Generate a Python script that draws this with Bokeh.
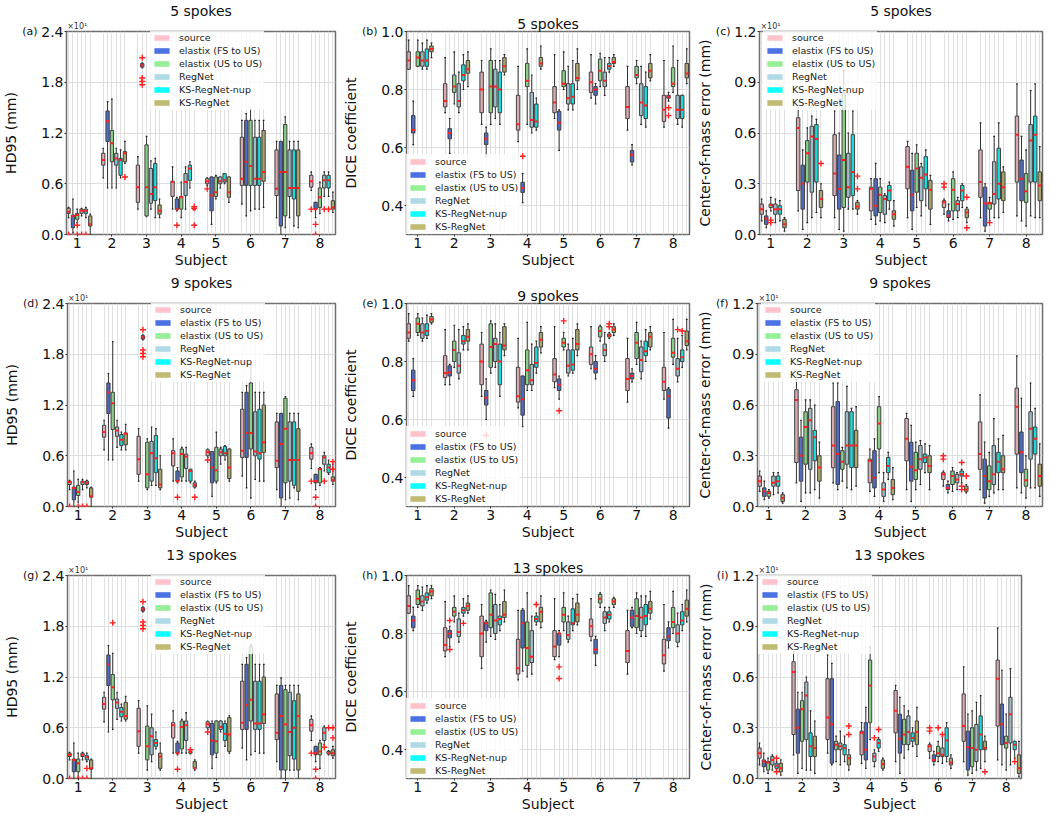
from bokeh.plotting import figure
from bokeh.layouts import column, row
from bokeh.models import (FixedTicker, PrintfTickFormatter, Legend, LegendItem,
                          Range1d, LinearAxis)
from bokeh.embed import file_html
from bokeh.resources import INLINE

FONT = "DejaVu Sans"
SUBJECTS = [1, 2, 3, 4, 5, 6, 7, 8]
METHODS = ["source", "elastix (FS to US)", "elastix (US to US)", "RegNet",
           "KS-RegNet-nup", "KS-RegNet"]
COLORS = ["#ffc0cb", "#4169e1", "#90ee90", "#add8e6", "#00ffff", "#bdb76b"]

# each panel: 8 subjects x 6 methods -> (low whisker, q1, median, q3, high whisker)
HD95_5 = [
    [(0.20, 0.25, 0.27, 0.31, 0.32), (0.02, 0.08, 0.22, 0.23, 0.42), (0.14, 0.18, 0.23, 0.25, 0.30), (0.22, 0.25, 0.28, 0.30, 0.31), (0.20, 0.25, 0.28, 0.30, 0.32), (0.00, 0.10, 0.12, 0.22, 0.24)],
    [(0.67, 0.82, 0.88, 0.96, 1.02), (0.55, 1.10, 1.34, 1.46, 1.57), (0.55, 0.86, 1.08, 1.23, 1.60), (0.55, 0.82, 0.90, 0.96, 1.02), (0.67, 0.70, 0.88, 0.90, 1.00), (0.84, 0.86, 0.96, 0.98, 1.10)],
    [(0.30, 0.38, 0.56, 0.82, 0.92), (1.97, 1.98, 2.00, 2.02, 2.03), (0.21, 0.22, 0.56, 1.06, 1.16), (0.30, 0.37, 0.48, 0.78, 0.87), (0.20, 0.40, 0.56, 0.84, 0.90), (0.20, 0.24, 0.28, 0.35, 0.42)],
    [(0.30, 0.45, 0.62, 0.63, 0.80), (0.28, 0.30, 0.30, 0.42, 0.44), (0.20, 0.30, 0.44, 0.45, 0.62), (0.30, 0.46, 0.62, 0.72, 0.80), (0.55, 0.64, 0.78, 0.82, 0.86), (0.30, 0.30, 0.30, 0.30, 0.30)],
    [(0.58, 0.60, 0.63, 0.66, 0.67), (0.12, 0.28, 0.46, 0.68, 0.68), (0.42, 0.45, 0.50, 0.68, 0.70), (0.55, 0.60, 0.63, 0.68, 0.68), (0.60, 0.62, 0.64, 0.72, 0.72), (0.38, 0.44, 0.50, 0.68, 0.68)],
    [(0.36, 0.58, 0.66, 1.15, 1.35), (0.22, 0.58, 0.86, 1.35, 1.43), (0.28, 0.58, 0.81, 1.35, 1.48), (0.30, 0.58, 0.66, 1.15, 1.35), (0.30, 0.58, 0.66, 1.15, 1.35), (0.32, 0.63, 0.74, 1.23, 1.35)],
    [(0.20, 0.46, 0.54, 1.00, 1.10), (0.00, 0.10, 0.74, 1.10, 1.10), (0.08, 0.22, 0.74, 1.30, 1.39), (0.20, 0.45, 0.55, 1.00, 1.10), (0.10, 0.42, 0.55, 1.00, 1.10), (0.08, 0.22, 0.55, 1.00, 1.10)],
    [(0.52, 0.56, 0.63, 0.70, 0.74), (0.20, 0.30, 0.30, 0.38, 0.38), (0.25, 0.32, 0.44, 0.55, 0.62), (0.45, 0.55, 0.64, 0.70, 0.74), (0.45, 0.55, 0.64, 0.70, 0.74), (0.26, 0.30, 0.32, 0.40, 0.50)],
]
HD95_5_OUT = [(1, 0, 0.0), (1, 2, 0.11), (1, 2, 0.0), (1, 3, 0.0), (1, 4, 0.0), (2, 5, 0.68),
              (3, 1, 2.09), (3, 1, 1.85), (3, 1, 1.81), (3, 1, 1.77), (4, 1, 0.11), (4, 5, 0.33),
              (4, 5, 0.31), (4, 5, 0.11), (5, 0, 0.54), (8, 0, 0.30), (8, 1, 0.12), (8, 1, 0.0),
              (8, 3, 0.30), (8, 4, 0.30)]

DICE_5 = [
    [(0.87, 0.87, 0.90, 0.93, 0.97), (0.61, 0.65, 0.66, 0.71, 0.76), (0.88, 0.88, 0.91, 0.93, 0.97), (0.87, 0.88, 0.90, 0.93, 0.96), (0.87, 0.88, 0.90, 0.94, 0.97), (0.91, 0.93, 0.94, 0.95, 0.96)],
    [(0.72, 0.74, 0.76, 0.82, 0.91), (0.58, 0.63, 0.65, 0.665, 0.70), (0.75, 0.79, 0.81, 0.85, 0.93), (0.72, 0.74, 0.76, 0.82, 0.86), (0.80, 0.83, 0.85, 0.885, 0.92), (0.81, 0.856, 0.87, 0.90, 0.93)],
    [(0.68, 0.72, 0.80, 0.86, 0.90), (0.57, 0.61, 0.63, 0.65, 0.67), (0.68, 0.72, 0.81, 0.90, 0.94), (0.70, 0.74, 0.81, 0.87, 0.90), (0.68, 0.72, 0.80, 0.86, 0.90), (0.85, 0.86, 0.88, 0.91, 0.92)],
    [(0.62, 0.66, 0.68, 0.78, 0.88), (0.41, 0.445, 0.46, 0.48, 0.51), (0.68, 0.81, 0.83, 0.89, 0.94), (0.65, 0.67, 0.695, 0.79, 0.85), (0.66, 0.67, 0.69, 0.75, 0.77), (0.87, 0.88, 0.89, 0.91, 0.95)],
    [(0.70, 0.72, 0.755, 0.81, 0.92), (0.59, 0.66, 0.685, 0.725, 0.73), (0.80, 0.81, 0.82, 0.865, 0.93), (0.73, 0.75, 0.77, 0.82, 0.88), (0.73, 0.75, 0.775, 0.82, 0.90), (0.80, 0.83, 0.84, 0.89, 0.94)],
    [(0.77, 0.79, 0.825, 0.86, 0.92), (0.75, 0.78, 0.80, 0.81, 0.82), (0.81, 0.83, 0.865, 0.905, 0.925), (0.78, 0.81, 0.83, 0.86, 0.91), (0.86, 0.87, 0.88, 0.89, 0.91), (0.88, 0.89, 0.895, 0.91, 0.92)],
    [(0.66, 0.70, 0.74, 0.81, 0.88), (0.54, 0.55, 0.575, 0.59, 0.61), (0.82, 0.84, 0.85, 0.88, 0.90), (0.68, 0.71, 0.755, 0.82, 0.88), (0.67, 0.70, 0.745, 0.81, 0.86), (0.83, 0.84, 0.865, 0.89, 0.92)],
    [(0.67, 0.69, 0.73, 0.78, 0.90), (0.76, 0.77, 0.775, 0.78, 0.79), (0.79, 0.81, 0.82, 0.875, 0.95), (0.68, 0.70, 0.73, 0.78, 0.90), (0.67, 0.70, 0.73, 0.78, 0.78), (0.82, 0.84, 0.855, 0.89, 0.94)],
]
DICE_5_OUT = [(4, 1, 0.57), (8, 1, 0.737), (8, 1, 0.71)]

COM_5 = [
    [(0.08, 0.12, 0.15, 0.18, 0.21), (0.04, 0.06, 0.095, 0.11, 0.14), (0.14, 0.16, 0.175, 0.18, 0.22), (0.07, 0.12, 0.15, 0.18, 0.21), (0.08, 0.12, 0.15, 0.17, 0.20), (0.02, 0.04, 0.06, 0.09, 0.10)],
    [(0.14, 0.26, 0.63, 0.69, 0.75), (0.03, 0.15, 0.30, 0.41, 0.50), (0.07, 0.31, 0.48, 0.555, 0.63), (0.10, 0.25, 0.58, 0.64, 0.70), (0.13, 0.31, 0.565, 0.65, 0.68), (0.10, 0.16, 0.21, 0.26, 0.30)],
    [(0.10, 0.23, 0.36, 0.59, 0.73), (0.03, 0.15, 0.27, 0.47, 0.60), (0.02, 0.16, 0.44, 0.83, 0.97), (0.15, 0.22, 0.28, 0.48, 0.60), (0.15, 0.23, 0.37, 0.59, 0.73), (0.12, 0.15, 0.165, 0.19, 0.20)],
    [(0.09, 0.14, 0.27, 0.28, 0.33), (0.06, 0.11, 0.17, 0.33, 0.42), (0.08, 0.13, 0.235, 0.28, 0.33), (0.07, 0.12, 0.21, 0.23, 0.24), (0.15, 0.20, 0.26, 0.29, 0.31), (0.05, 0.09, 0.12, 0.14, 0.20)],
    [(0.10, 0.27, 0.40, 0.52, 0.55), (0.03, 0.14, 0.235, 0.38, 0.48), (0.16, 0.25, 0.39, 0.48, 0.53), (0.11, 0.20, 0.335, 0.40, 0.42), (0.17, 0.27, 0.355, 0.46, 0.50), (0.06, 0.15, 0.265, 0.32, 0.35)],
    [(0.12, 0.16, 0.19, 0.20, 0.21), (0.08, 0.10, 0.11, 0.14, 0.18), (0.09, 0.14, 0.265, 0.33, 0.37), (0.10, 0.14, 0.18, 0.20, 0.22), (0.16, 0.20, 0.26, 0.29, 0.30), (0.07, 0.10, 0.13, 0.15, 0.16)],
    [(0.10, 0.22, 0.31, 0.50, 0.66), (0.02, 0.05, 0.185, 0.28, 0.30), (0.08, 0.15, 0.185, 0.19, 0.22), (0.10, 0.18, 0.24, 0.43, 0.58), (0.10, 0.21, 0.30, 0.51, 0.66), (0.13, 0.20, 0.28, 0.37, 0.40)],
    [(0.11, 0.31, 0.59, 0.70, 0.89), (0.08, 0.20, 0.33, 0.44, 0.58), (0.05, 0.19, 0.255, 0.36, 0.50), (0.11, 0.31, 0.555, 0.65, 0.85), (0.10, 0.31, 0.59, 0.70, 0.89), (0.10, 0.20, 0.29, 0.37, 0.52)],
]
COM_5_OUT = [(1, 2, 0.085), (1, 2, 0.07), (2, 5, 0.42), (3, 5, 0.345), (3, 5, 0.27),
             (6, 0, 0.30), (6, 0, 0.28), (6, 5, 0.22), (6, 5, 0.04), (7, 2, 0.07)]

HD95_9 = [
    [(0.20, 0.26, 0.29, 0.30, 0.31), (0.00, 0.08, 0.22, 0.23, 0.42), (0.05, 0.13, 0.17, 0.25, 0.32), (0.20, 0.26, 0.29, 0.30, 0.32), (0.22, 0.26, 0.28, 0.30, 0.31), (0.00, 0.11, 0.12, 0.22, 0.23)],
    [(0.67, 0.82, 0.88, 0.96, 1.02), (0.55, 1.10, 1.35, 1.46, 1.57), (0.55, 0.91, 1.22, 1.35, 1.95), (0.70, 0.83, 0.90, 0.94, 1.02), (0.67, 0.72, 0.79, 0.85, 0.88), (0.67, 0.73, 0.86, 0.87, 0.97)],
    [(0.30, 0.38, 0.56, 0.83, 0.92), (1.97, 1.98, 2.00, 2.02, 2.03), (0.20, 0.22, 0.38, 0.76, 0.80), (0.25, 0.30, 0.63, 0.77, 0.94), (0.25, 0.40, 0.57, 0.84, 0.92), (0.20, 0.22, 0.26, 0.44, 0.60)],
    [(0.30, 0.48, 0.63, 0.66, 0.80), (0.28, 0.30, 0.30, 0.42, 0.46), (0.30, 0.35, 0.62, 0.68, 0.70), (0.30, 0.45, 0.59, 0.62, 0.70), (0.28, 0.30, 0.42, 0.44, 0.44), (0.22, 0.23, 0.25, 0.28, 0.30)],
    [(0.58, 0.60, 0.64, 0.67, 0.68), (0.12, 0.28, 0.46, 0.65, 0.65), (0.28, 0.30, 0.43, 0.70, 0.88), (0.50, 0.60, 0.64, 0.68, 0.70), (0.55, 0.60, 0.63, 0.71, 0.72), (0.30, 0.33, 0.46, 0.68, 0.68)],
    [(0.36, 0.58, 0.66, 1.15, 1.35), (0.22, 0.58, 0.87, 1.35, 1.43), (0.10, 0.68, 0.87, 1.46, 1.68), (0.32, 0.60, 0.65, 1.12, 1.35), (0.30, 0.56, 0.63, 1.15, 1.35), (0.30, 0.64, 0.76, 1.20, 1.35)],
    [(0.20, 0.46, 0.54, 1.00, 1.10), (0.00, 0.10, 0.74, 1.10, 1.10), (0.08, 0.28, 0.92, 1.28, 1.30), (0.10, 0.30, 0.55, 1.00, 1.10), (0.22, 0.25, 0.55, 1.00, 1.10), (0.08, 0.18, 0.55, 0.92, 1.10)],
    [(0.45, 0.56, 0.63, 0.70, 0.74), (0.20, 0.28, 0.30, 0.38, 0.38), (0.25, 0.28, 0.44, 0.45, 0.46), (0.42, 0.50, 0.58, 0.60, 0.64), (0.38, 0.40, 0.46, 0.50, 0.55), (0.26, 0.30, 0.31, 0.35, 0.50)],
]
HD95_9_OUT = [(1, 0, 0.0), (1, 2, 0.0), (1, 3, 0.0), (1, 4, 0.0), (3, 1, 2.09), (3, 1, 1.85),
              (3, 1, 1.81), (3, 1, 1.77), (4, 1, 0.11), (4, 5, 0.11), (5, 0, 0.55), (8, 0, 0.30),
              (8, 1, 0.11), (8, 1, 0.0), (8, 3, 0.30), (8, 5, 0.53), (8, 5, 0.44)]

DICE_9 = [
    [(0.87, 0.88, 0.90, 0.93, 0.965), (0.68, 0.70, 0.735, 0.77, 0.81), (0.89, 0.90, 0.93, 0.95, 0.965), (0.87, 0.88, 0.90, 0.93, 0.95), (0.88, 0.89, 0.905, 0.93, 0.96), (0.93, 0.935, 0.945, 0.955, 0.965)],
    [(0.72, 0.745, 0.76, 0.82, 0.91), (0.72, 0.75, 0.762, 0.785, 0.79), (0.78, 0.80, 0.84, 0.87, 0.925), (0.74, 0.76, 0.785, 0.83, 0.91), (0.84, 0.86, 0.87, 0.89, 0.92), (0.84, 0.87, 0.885, 0.91, 0.93)],
    [(0.68, 0.72, 0.80, 0.86, 0.90), (0.60, 0.65, 0.675, 0.70, 0.74), (0.76, 0.78, 0.85, 0.93, 0.94), (0.78, 0.80, 0.86, 0.88, 0.93), (0.68, 0.72, 0.80, 0.86, 0.90), (0.82, 0.84, 0.855, 0.92, 0.93)],
    [(0.64, 0.66, 0.68, 0.78, 0.88), (0.575, 0.615, 0.67, 0.75, 0.75), (0.70, 0.72, 0.77, 0.84, 0.935), (0.70, 0.72, 0.735, 0.79, 0.86), (0.76, 0.78, 0.795, 0.85, 0.87), (0.83, 0.85, 0.875, 0.90, 0.92)],
    [(0.71, 0.73, 0.755, 0.81, 0.92), (0.67, 0.70, 0.72, 0.74, 0.75), (0.84, 0.85, 0.865, 0.88, 0.90), (0.75, 0.76, 0.785, 0.84, 0.86), (0.76, 0.77, 0.79, 0.84, 0.88), (0.82, 0.84, 0.86, 0.91, 0.93)],
    [(0.775, 0.79, 0.825, 0.85, 0.92), (0.74, 0.76, 0.775, 0.80, 0.82), (0.87, 0.885, 0.905, 0.92, 0.925), (0.80, 0.82, 0.84, 0.86, 0.90), (0.88, 0.885, 0.89, 0.895, 0.90), (0.89, 0.90, 0.91, 0.92, 0.93)],
    [(0.66, 0.70, 0.74, 0.81, 0.88), (0.73, 0.74, 0.75, 0.76, 0.775), (0.79, 0.81, 0.865, 0.90, 0.935), (0.74, 0.765, 0.805, 0.85, 0.87), (0.80, 0.82, 0.835, 0.87, 0.91), (0.84, 0.85, 0.885, 0.90, 0.92)],
    [(0.67, 0.70, 0.73, 0.78, 0.90), (0.57, 0.605, 0.68, 0.705, 0.71), (0.79, 0.815, 0.83, 0.88, 0.945), (0.73, 0.75, 0.775, 0.81, 0.88), (0.78, 0.80, 0.815, 0.84, 0.89), (0.84, 0.855, 0.87, 0.905, 0.945)],
]
DICE_9_OUT = [(3, 1, 0.545), (5, 1, 0.63), (5, 2, 0.94), (6, 4, 0.93), (6, 4, 0.92),
              (8, 3, 0.91), (8, 4, 0.905)]

COM_9 = [
    [(0.09, 0.12, 0.15, 0.18, 0.21), (0.04, 0.06, 0.09, 0.11, 0.15), (0.05, 0.06, 0.08, 0.09, 0.10), (0.07, 0.12, 0.14, 0.18, 0.20), (0.08, 0.12, 0.15, 0.18, 0.20), (0.02, 0.03, 0.05, 0.07, 0.08)],
    [(0.14, 0.26, 0.63, 0.69, 0.75), (0.03, 0.15, 0.30, 0.41, 0.51), (0.08, 0.25, 0.47, 0.56, 0.63), (0.08, 0.22, 0.51, 0.58, 0.63), (0.10, 0.27, 0.41, 0.45, 0.60), (0.05, 0.15, 0.23, 0.30, 0.38)],
    [(0.14, 0.23, 0.36, 0.59, 0.73), (0.10, 0.13, 0.31, 0.62, 0.73), (0.15, 0.22, 0.265, 0.33, 0.35), (0.11, 0.25, 0.36, 0.56, 0.71), (0.10, 0.23, 0.36, 0.56, 0.58), (0.12, 0.23, 0.36, 0.45, 0.59)],
    [(0.09, 0.14, 0.27, 0.28, 0.34), (0.06, 0.11, 0.17, 0.33, 0.40), (0.20, 0.34, 0.49, 0.59, 0.65), (0.03, 0.06, 0.10, 0.14, 0.20), (0.16, 0.20, 0.24, 0.29, 0.32), (0.04, 0.07, 0.11, 0.16, 0.23)],
    [(0.10, 0.27, 0.40, 0.52, 0.55), (0.03, 0.15, 0.235, 0.38, 0.48), (0.10, 0.16, 0.215, 0.32, 0.38), (0.13, 0.22, 0.28, 0.36, 0.39), (0.20, 0.26, 0.29, 0.31, 0.37), (0.10, 0.20, 0.24, 0.30, 0.36)],
    [(0.12, 0.16, 0.19, 0.20, 0.21), (0.08, 0.10, 0.11, 0.13, 0.15), (0.09, 0.13, 0.18, 0.21, 0.23), (0.10, 0.14, 0.16, 0.19, 0.20), (0.14, 0.18, 0.19, 0.21, 0.22), (0.08, 0.09, 0.10, 0.12, 0.13)],
    [(0.10, 0.22, 0.31, 0.50, 0.66), (0.02, 0.05, 0.18, 0.28, 0.38), (0.06, 0.10, 0.15, 0.24, 0.32), (0.08, 0.13, 0.19, 0.36, 0.52), (0.10, 0.20, 0.265, 0.32, 0.40), (0.10, 0.20, 0.22, 0.30, 0.42)],
    [(0.11, 0.31, 0.59, 0.70, 0.89), (0.08, 0.20, 0.32, 0.44, 0.64), (0.05, 0.12, 0.155, 0.22, 0.30), (0.11, 0.28, 0.46, 0.56, 0.73), (0.11, 0.31, 0.40, 0.47, 0.58), (0.06, 0.12, 0.18, 0.25, 0.37)],
]
COM_9_OUT = [(6, 0, 0.30), (6, 0, 0.28), (6, 4, 0.26), (6, 4, 0.12), (6, 4, 0.10), (6, 5, 0.18)]

HD95_13 = [
    [(0.22, 0.26, 0.28, 0.30, 0.31), (0.00, 0.08, 0.22, 0.23, 0.42), (0.00, 0.08, 0.18, 0.23, 0.30), (0.22, 0.26, 0.28, 0.30, 0.31), (0.20, 0.22, 0.25, 0.27, 0.30), (0.00, 0.11, 0.12, 0.22, 0.23)],
    [(0.67, 0.82, 0.88, 0.96, 1.02), (0.55, 1.10, 1.35, 1.46, 1.57), (0.58, 0.93, 1.08, 1.23, 1.48), (0.70, 0.83, 0.90, 0.94, 1.02), (0.68, 0.73, 0.79, 0.84, 0.88), (0.68, 0.70, 0.74, 0.90, 0.97)],
    [(0.30, 0.38, 0.56, 0.83, 0.92), (1.97, 1.98, 2.00, 2.02, 2.03), (0.10, 0.22, 0.38, 0.62, 0.86), (0.20, 0.28, 0.50, 0.60, 0.76), (0.35, 0.38, 0.42, 0.46, 0.55), (0.10, 0.12, 0.26, 0.30, 0.42)],
    [(0.30, 0.48, 0.63, 0.66, 0.80), (0.28, 0.30, 0.30, 0.42, 0.44), (0.30, 0.35, 0.61, 0.68, 0.70), (0.30, 0.45, 0.63, 0.68, 0.78), (0.29, 0.30, 0.31, 0.32, 0.33), (0.10, 0.12, 0.12, 0.20, 0.22)],
    [(0.58, 0.60, 0.64, 0.67, 0.68), (0.12, 0.28, 0.45, 0.65, 0.68), (0.25, 0.30, 0.44, 0.68, 0.68), (0.55, 0.58, 0.61, 0.68, 0.68), (0.38, 0.45, 0.53, 0.65, 0.68), (0.30, 0.32, 0.52, 0.72, 0.74)],
    [(0.36, 0.58, 0.66, 1.15, 1.35), (0.22, 0.58, 0.87, 1.35, 1.43), (0.28, 0.68, 0.93, 1.56, 1.58), (0.32, 0.58, 0.65, 1.15, 1.35), (0.30, 0.58, 0.65, 1.15, 1.35), (0.30, 0.65, 0.76, 1.20, 1.35)],
    [(0.20, 0.46, 0.54, 1.00, 1.10), (0.00, 0.10, 0.74, 1.10, 1.19), (0.00, 0.10, 0.64, 1.05, 1.10), (0.10, 0.27, 0.55, 1.02, 1.10), (0.10, 0.23, 0.60, 0.92, 1.10), (0.00, 0.10, 0.74, 1.00, 1.10)],
    [(0.45, 0.56, 0.63, 0.70, 0.74), (0.20, 0.28, 0.30, 0.38, 0.38), (0.12, 0.28, 0.32, 0.42, 0.45), (0.40, 0.45, 0.54, 0.60, 0.62), (0.28, 0.29, 0.30, 0.32, 0.33), (0.24, 0.27, 0.30, 0.34, 0.38)],
]
HD95_13_OUT = [(1, 0, 0.0), (1, 2, 0.0), (1, 3, 0.0), (1, 4, 0.12), (1, 4, 0.0), (2, 2, 1.84),
               (3, 1, 2.09), (3, 1, 1.85), (3, 1, 1.81), (3, 1, 1.77), (4, 1, 0.11), (4, 4, 0.34),
               (5, 0, 0.55), (8, 0, 0.30), (8, 1, 0.11), (8, 1, 0.0), (8, 3, 0.37), (8, 4, 0.60),
               (8, 5, 0.60), (8, 5, 0.48)]

DICE_13 = [
    [(0.87, 0.87, 0.895, 0.93, 0.965), (0.81, 0.82, 0.845, 0.86, 0.89), (0.89, 0.90, 0.92, 0.95, 0.965), (0.88, 0.895, 0.91, 0.93, 0.96), (0.905, 0.915, 0.925, 0.94, 0.965), (0.92, 0.93, 0.945, 0.955, 0.965)],
    [(0.72, 0.74, 0.76, 0.82, 0.91), (0.755, 0.785, 0.80, 0.81, 0.825), (0.84, 0.86, 0.875, 0.89, 0.93), (0.77, 0.79, 0.805, 0.85, 0.87), (0.86, 0.87, 0.88, 0.89, 0.92), (0.87, 0.88, 0.895, 0.905, 0.93)],
    [(0.68, 0.72, 0.80, 0.86, 0.90), (0.77, 0.81, 0.835, 0.84, 0.845), (0.79, 0.82, 0.865, 0.94, 0.95), (0.78, 0.80, 0.845, 0.90, 0.935), (0.81, 0.83, 0.85, 0.86, 0.90), (0.84, 0.855, 0.865, 0.91, 0.95)],
    [(0.64, 0.66, 0.68, 0.78, 0.88), (0.67, 0.75, 0.835, 0.88, 0.885), (0.65, 0.69, 0.75, 0.84, 0.94), (0.66, 0.70, 0.72, 0.81, 0.86), (0.83, 0.84, 0.85, 0.86, 0.87), (0.82, 0.84, 0.875, 0.89, 0.93)],
    [(0.71, 0.72, 0.755, 0.81, 0.92), (0.72, 0.76, 0.80, 0.80, 0.81), (0.81, 0.84, 0.865, 0.89, 0.94), (0.77, 0.78, 0.795, 0.84, 0.86), (0.81, 0.83, 0.835, 0.885, 0.92), (0.83, 0.84, 0.865, 0.905, 0.935)],
    [(0.775, 0.79, 0.825, 0.85, 0.92), (0.69, 0.73, 0.745, 0.78, 0.79), (0.89, 0.905, 0.92, 0.935, 0.94), (0.81, 0.835, 0.855, 0.875, 0.89), (0.84, 0.85, 0.865, 0.875, 0.89), (0.89, 0.90, 0.91, 0.92, 0.925)],
    [(0.66, 0.70, 0.74, 0.81, 0.88), (0.82, 0.825, 0.855, 0.88, 0.89), (0.80, 0.82, 0.86, 0.92, 0.94), (0.79, 0.81, 0.855, 0.89, 0.93), (0.79, 0.83, 0.86, 0.90, 0.93), (0.85, 0.87, 0.885, 0.91, 0.945)],
    [(0.67, 0.695, 0.725, 0.78, 0.90), (0.75, 0.775, 0.79, 0.82, 0.84), (0.80, 0.82, 0.84, 0.89, 0.945), (0.755, 0.77, 0.80, 0.83, 0.87), (0.81, 0.83, 0.845, 0.875, 0.90), (0.84, 0.86, 0.885, 0.915, 0.95)],
]
DICE_13_OUT = [(2, 1, 0.845), (2, 1, 0.745), (2, 4, 0.835), (4, 4, 0.90), (5, 1, 0.685), (5, 1, 0.645)]

COM_13 = [
    [(0.08, 0.12, 0.15, 0.18, 0.21), (0.04, 0.07, 0.10, 0.11, 0.15), (0.03, 0.05, 0.095, 0.10, 0.12), (0.05, 0.08, 0.11, 0.13, 0.14), (0.05, 0.06, 0.075, 0.09, 0.10), (0.02, 0.04, 0.06, 0.09, 0.11)],
    [(0.14, 0.26, 0.63, 0.69, 0.75), (0.03, 0.15, 0.30, 0.41, 0.51), (0.06, 0.22, 0.41, 0.46, 0.51), (0.05, 0.23, 0.49, 0.57, 0.60), (0.05, 0.13, 0.19, 0.27, 0.40), (0.03, 0.13, 0.18, 0.25, 0.34)],
    [(0.15, 0.23, 0.36, 0.59, 0.73), (0.08, 0.09, 0.32, 0.59, 0.68), (0.10, 0.17, 0.20, 0.22, 0.25), (0.08, 0.17, 0.19, 0.21, 0.28), (0.10, 0.14, 0.18, 0.20, 0.25), (0.05, 0.08, 0.12, 0.14, 0.17)],
    [(0.09, 0.14, 0.27, 0.28, 0.33), (0.06, 0.11, 0.17, 0.33, 0.42), (0.23, 0.33, 0.55, 0.70, 0.78), (0.07, 0.10, 0.13, 0.15, 0.17), (0.16, 0.18, 0.21, 0.23, 0.24), (0.05, 0.06, 0.085, 0.11, 0.12)],
    [(0.10, 0.27, 0.40, 0.52, 0.55), (0.03, 0.15, 0.235, 0.38, 0.48), (0.12, 0.20, 0.26, 0.35, 0.43), (0.17, 0.20, 0.275, 0.37, 0.40), (0.19, 0.22, 0.24, 0.27, 0.30), (0.13, 0.20, 0.275, 0.34, 0.42)],
    [(0.12, 0.16, 0.19, 0.20, 0.21), (0.08, 0.10, 0.11, 0.14, 0.16), (0.10, 0.13, 0.15, 0.19, 0.22), (0.09, 0.13, 0.14, 0.18, 0.25), (0.10, 0.13, 0.225, 0.30, 0.33), (0.06, 0.08, 0.095, 0.12, 0.14)],
    [(0.10, 0.22, 0.31, 0.50, 0.66), (0.02, 0.05, 0.185, 0.28, 0.38), (0.03, 0.07, 0.18, 0.30, 0.40), (0.05, 0.10, 0.17, 0.32, 0.45), (0.06, 0.17, 0.26, 0.37, 0.49), (0.10, 0.17, 0.18, 0.22, 0.25)],
    [(0.11, 0.31, 0.59, 0.70, 0.89), (0.08, 0.20, 0.32, 0.44, 0.64), (0.05, 0.18, 0.21, 0.25, 0.38), (0.08, 0.21, 0.38, 0.48, 0.65), (0.12, 0.17, 0.20, 0.22, 0.22), (0.01, 0.03, 0.06, 0.14, 0.22)],
]
COM_13_OUT = [(1, 4, 0.12), (1, 4, 0.04), (3, 5, 0.31), (3, 5, 0.26), (4, 3, 0.24), (4, 4, 0.29),
              (6, 0, 0.30), (6, 0, 0.28), (6, 2, 0.30), (6, 3, 0.26), (7, 5, 0.04), (8, 4, 0.10)]

HD95_TICKS = [0.0, 0.6, 1.2, 1.8, 2.4]
DICE_TICKS = [0.4, 0.6, 0.8, 1.0]
COM_TICKS = [0.0, 0.3, 0.6, 0.9, 1.2]

X0, X1 = 0.69, 8.45
BW = 0.095    # box width (subject units)
CW = 0.024    # half cap width
SLOT = 0.125  # spacing between neighbouring boxes
NAN = float("nan")


def blend(c, f=0.72, g=115):
    r, gg, b = int(c[1:3], 16), int(c[3:5], 16), int(c[5:7], 16)
    return "#%02x%02x%02x" % tuple(int(round(v * f + g * (1 - f))) for v in (r, gg, b))


def style_axis(ax, size="14px"):
    ax.axis_label_text_font = FONT
    ax.axis_label_text_font_size = "14px"
    ax.axis_label_text_font_style = "normal"
    ax.axis_label_text_color = "#111111"
    ax.major_label_text_font = FONT
    ax.major_label_text_font_size = size
    ax.major_label_text_color = "#111111"
    ax.axis_line_color = None
    ax.minor_tick_line_color = None


def panel(letter, title, ylabel, data, outs, yr, yticks, sci, leg_loc,
          w, h, bl, br, bt, bb, fw):
    p = figure(width=w, height=h, output_backend="svg", toolbar_location=None,
               x_range=Range1d(X0, X1), y_range=Range1d(*yr), title=title,
               min_border_left=bl, min_border_right=br, min_border_top=bt,
               min_border_bottom=bb)
    p.title.align = "center"
    p.title.text_font = FONT
    p.title.text_font_size = "14px"
    p.title.text_font_style = "normal"
    p.title.text_color = "#111111"
    p.title.standoff = 0

    all_x = []
    ox, oy = [], []
    for k in range(6):
        xk = [s + (k - 2) * SLOT for s in SUBJECTS]
        all_x += xk
        lo = [data[i][k][0] for i in range(8)]
        q1 = [data[i][k][1] for i in range(8)]
        md = [data[i][k][2] for i in range(8)]
        q3 = [data[i][k][3] for i in range(8)]
        hi = [data[i][k][4] for i in range(8)]
        p.segment(x0=xk, y0=lo, x1=xk, y1=q1, line_color="#333333", line_width=1)
        p.segment(x0=xk, y0=q3, x1=xk, y1=hi, line_color="#333333", line_width=1)
        p.segment(x0=[x - CW for x in xk], y0=lo, x1=[x + CW for x in xk], y1=lo,
                  line_color="#222222", line_width=1.2)
        p.segment(x0=[x - CW for x in xk], y0=hi, x1=[x + CW for x in xk], y1=hi,
                  line_color="#222222", line_width=1.2)
        p.vbar(x=xk, width=BW, bottom=q1, top=q3, fill_color=blend(COLORS[k]),
               line_color="#404040", line_width=1)
        p.segment(x0=[x - BW / 2 for x in xk], y0=md, x1=[x + BW / 2 for x in xk], y1=md,
                  line_color="#ff2020", line_width=2)
    for s, k, v in outs:
        ox.append(s + (k - 2) * SLOT)
        oy.append(v)
    p.scatter(x=ox, y=oy, marker="cross", size=6, line_color="#ff2020", line_width=1.4)

    items = []
    for k, m in enumerate(METHODS):
        r = p.quad(left=[NAN], right=[NAN], top=[NAN], bottom=[NAN],
                   fill_color=COLORS[k], fill_alpha=0.95, line_alpha=0)
        items.append(LegendItem(label=m, renderers=[r]))
    leg = Legend(items=items, location=leg_loc, label_text_font=FONT,
                 label_text_font_size="9.5px", label_text_color="#222222",
                 glyph_width=19, glyph_height=7, label_height=11, label_standoff=8,
                 spacing=2, padding=2, margin=0, border_line_alpha=0,
                 background_fill_color="white", background_fill_alpha=0.8)
    p.add_layout(leg)

    xax = p.xaxis[0]
    yax = p.yaxis[0]
    xax.ticker = FixedTicker(ticks=SUBJECTS)
    yax.ticker = FixedTicker(ticks=yticks)
    yax.formatter = PrintfTickFormatter(format="%.1f")
    xax.axis_label = "Subject"
    for ax in (xax, yax):
        style_axis(ax)
        ax.major_tick_out = 2
        ax.major_tick_in = 0
        ax.major_tick_line_color = "#333333"
        ax.major_label_standoff = 1
        ax.axis_label_standoff = 1

    # outer left axis: panel letter next to the top tick label, plus the axis title
    outer = LinearAxis(ticker=FixedTicker(ticks=[yr[1]]),
                       formatter=PrintfTickFormatter(format="(%s)" % letter),
                       axis_label=ylabel)
    style_axis(outer, "11px")
    outer.major_tick_line_color = None
    outer.major_tick_out = 0
    outer.major_tick_in = 0
    outer.major_label_standoff = 1
    outer.axis_label_standoff = 0
    p.add_layout(outer, "left")

    if sci:
        upx = (X1 - X0) / fw
        top = LinearAxis(ticker=FixedTicker(ticks=[X0 + 11 * upx]),
                         formatter=PrintfTickFormatter(format="\u00d710\u00b9"))
        style_axis(top, "8px")
        top.major_label_text_color = "#333333"
        top.major_tick_line_color = None
        top.major_tick_out = 0
        top.major_tick_in = 0
        top.major_label_standoff = 1
        p.add_layout(top, "above")

    p.xgrid.ticker = FixedTicker(ticks=sorted(all_x))
    p.xgrid.grid_line_color = "#e0e0e0"
    p.xgrid.grid_line_width = 1
    p.ygrid.ticker = FixedTicker(ticks=yticks)
    p.ygrid.grid_line_color = "#dedede"
    p.outline_line_color = "#6e6e6e"
    p.outline_line_width = 1.5
    p.background_fill_color = "white"
    return p


ROW_H = 272
TOP = 28
BOT = 38
FH = ROW_H - TOP - BOT
specs = [
    ("a", "5 spokes", "HD95 (mm)", HD95_5, HD95_5_OUT, (0, 2.4), HD95_TICKS, True),
    ("b", "5 spokes", "DICE coefficient", DICE_5, DICE_5_OUT, (0.3, 1.0), DICE_TICKS, False),
    ("c", "5 spokes", "Center-of-mass error (mm)", COM_5, COM_5_OUT, (0, 1.2), COM_TICKS, True),
    ("d", "9 spokes", "HD95 (mm)", HD95_9, HD95_9_OUT, (0, 2.4), HD95_TICKS, True),
    ("e", "9 spokes", "DICE coefficient", DICE_9, DICE_9_OUT, (0.3, 1.0), DICE_TICKS, False),
    ("f", "9 spokes", "Center-of-mass error (mm)", COM_9, COM_9_OUT, (0, 1.2), COM_TICKS, True),
    ("g", "13 spokes", "HD95 (mm)", HD95_13, HD95_13_OUT, (0, 2.4), HD95_TICKS, True),
    ("h", "13 spokes", "DICE coefficient", DICE_13, DICE_13_OUT, (0.3, 1.0), DICE_TICKS, False),
    ("i", "13 spokes", "Center-of-mass error (mm)", COM_13, COM_13_OUT, (0, 1.2), COM_TICKS, True),
]
COL_W = [339, 354, 355]
COL_BL = [58, 67, 64]
COL_BR = [4, 4, 6]
rows = []
for r in range(3):
    figs = []
    for c in range(3):
        letter, title, ylabel, data, outs, yr, ticks, sci = specs[r * 3 + c]
        br = COL_BR[c]
        if letter == "i":
            br = 27
        fw = COL_W[c] - COL_BL[c] - br
        if c == 0:
            loc = (84, FH - 82)
        elif c == 1:
            loc = (0, 0)
        else:
            loc = (1 if letter == "i" else 4, FH - 82)
        figs.append(panel(letter, title, ylabel, data, outs, yr, ticks, sci, loc,
                          COL_W[c], ROW_H, COL_BL[c], br, TOP, BOT, fw))
    rows.append(row(*figs))

layout = column(*rows)
open("out.html", "w").write(file_html(layout, INLINE))
